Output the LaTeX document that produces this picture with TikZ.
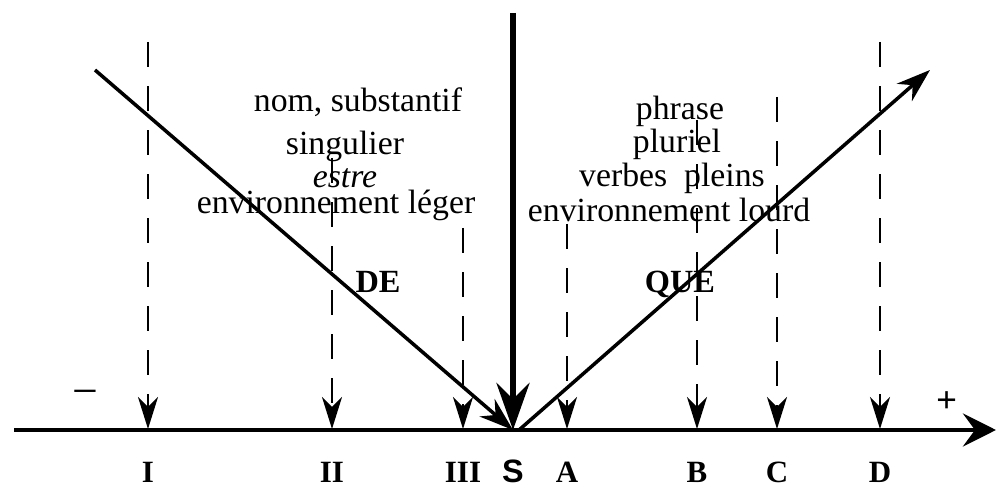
\documentclass[tikz,border=0pt]{standalone}
\usepackage{fontspec}
\setmainfont{Liberation Serif}
\setsansfont{Liberation Sans}
\usetikzlibrary{arrows.meta}

\begin{document}
\begin{tikzpicture}[
        x=0.01cm, y=-0.01cm,
        axe/.style={line width=1.4pt, -{Stealth[length=3.3mm, width=3.3mm, inset=1.2mm]}},
        sommet/.style={line width=1.7pt, -{Stealth[length=4.7mm, width=3.3mm, inset=1.6mm]}},
        pente/.style={line width=1pt, -{Stealth[length=3.4mm, width=2.3mm, inset=1.1mm]}},
        repere/.style={line width=0.8pt, dash pattern=on 0.25cm off 0.19cm,
            -{Stealth[length=3.2mm, width=2mm, inset=1mm]}},
        texte/.style={anchor=base, inner sep=0pt, font=\fontsize{9.6}{10}\selectfont},
        etiquette/.style={anchor=base, inner sep=0pt, font=\fontsize{8.8}{9}\selectfont\bfseries}
    ]
    \useasboundingbox (0,0) rectangle (996,488);

    % Axe
    \coordinate (gauche) at (14,430);
    \coordinate (droite) at (996,430);
    \coordinate (S) at (513,430);
    \draw[axe] (gauche) -- (droite);
    \node[inner sep=0pt, font=\fontsize{13}{13}\selectfont] (moins) at (85,398) {−};
    \node[inner sep=0pt, font=\fontsize{10.5}{11}\selectfont\bfseries] (plus) at (947,402) {+};

    % Reperes
    \foreach \nom/\x/\haut in {I/148/42, II/332/158, III/463/228, A/567/224, B/697/120, C/777/97, D/880/42} {
        \coordinate (haut\nom) at (\x,\haut);
        \coordinate (pied\nom) at (\x,429);
        \draw[repere] (haut\nom) -- (pied\nom);
        \node[etiquette] (lab\nom) at (\x,483) {\nom};
    }
    \node[etiquette, font=\fontsize{9.2}{9}\selectfont\sffamily\bfseries] (labS) at (513,483) {S};

    % Fleches
    \coordinate (ciel) at (513,13);
    \coordinate (debutDE) at (95,70);
    \coordinate (departQUE) at (519,430);
    \coordinate (finQUE) at (930,70);
    \draw[sommet] (ciel) -- (S);
    \draw[pente] (debutDE) -- (S);
    \draw[pente] (departQUE) -- (finQUE);

    \node[etiquette, font=\fontsize{9.2}{9}\selectfont\bfseries] (de) at (378,293) {DE};
    \node[etiquette, font=\fontsize{9.2}{9}\selectfont\bfseries] (que) at (680,293) {QUE};

    % Gauche
    \node[texte] (nom) at (358,112) {nom, substantif};
    \node[texte] (sing) at (345,155) {singulier};
    \node[texte] (estre) at (345,188) {\itshape estre};
    \node[texte] (leger) at (336,214) {environnement léger};

    % Droite
    \node[texte] (phrase) at (680,120) {phrase};
    \node[texte] (plur) at (677,153) {pluriel};
    \node[texte] (verbes) at (672,187) {verbes\ \ pleins};
    \node[texte] (lourd) at (669,222) {environnement lourd};

\end{tikzpicture}
\end{document}
